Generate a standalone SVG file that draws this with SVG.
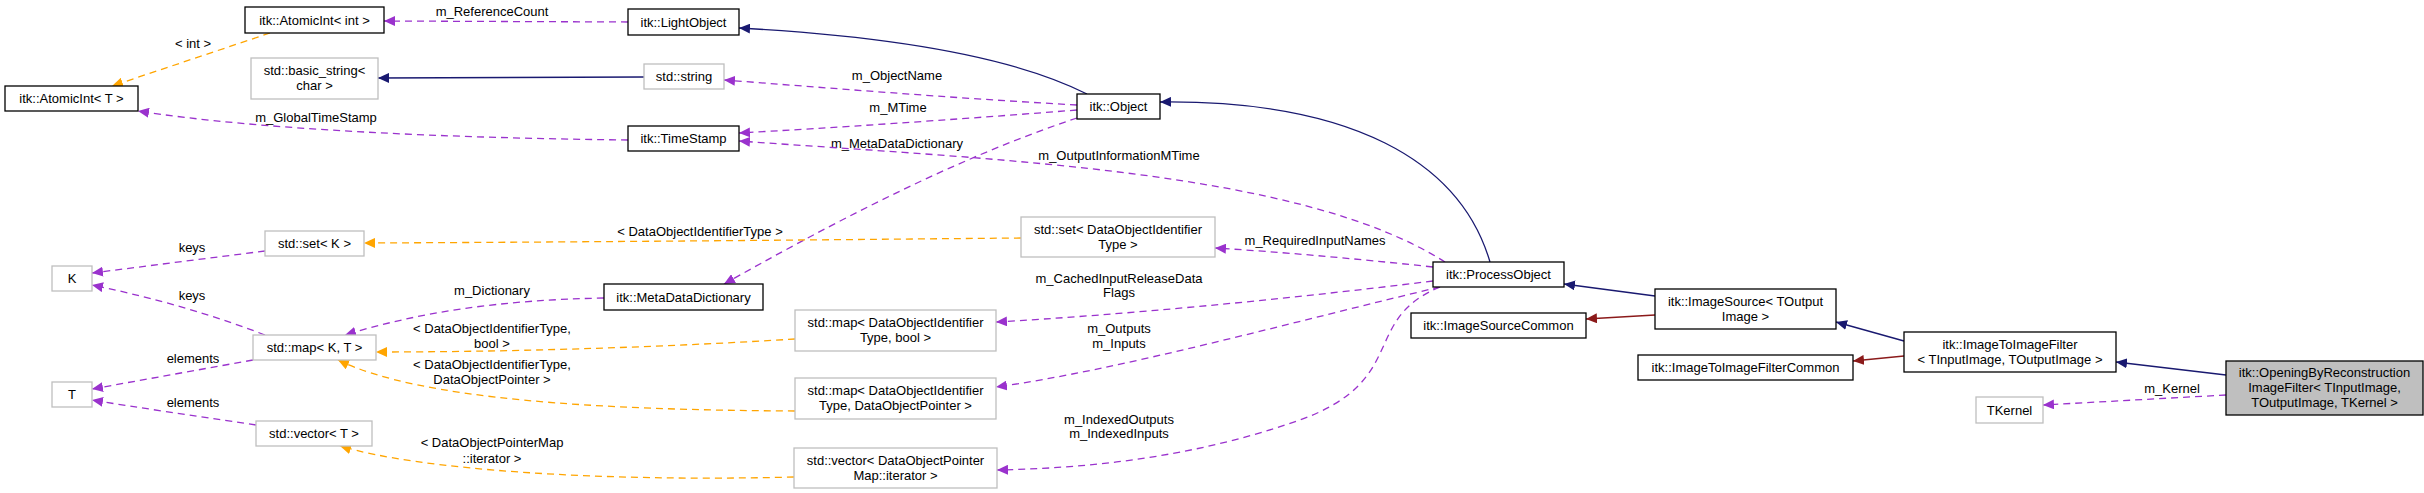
<svg xmlns="http://www.w3.org/2000/svg" width="2424" height="493" viewBox="0 0 2424 493">
<style>
text{font-family:"Liberation Sans",Arial,sans-serif;font-size:13px;fill:#000;text-anchor:middle}
.n{fill:#fff;stroke:#000;stroke-width:1.3}
.u{fill:#fff;stroke:#bfbfbf;stroke-width:1.3}
.g{fill:#bfbfbf;stroke:#000;stroke-width:1.3}
.p{fill:none;stroke:#9a32cd;stroke-width:1.3;stroke-dasharray:7,5;marker-end:url(#ap)}
.o{fill:none;stroke:#ffa500;stroke-width:1.3;stroke-dasharray:7,5;marker-end:url(#ao)}
.b{fill:none;stroke:#191970;stroke-width:1.3;marker-end:url(#ab)}
.r{fill:none;stroke:#8b1a1a;stroke-width:1.3;marker-end:url(#ar)}
</style>
<defs>
<marker id="ap" markerUnits="userSpaceOnUse" markerWidth="12" markerHeight="10" refX="11" refY="5" orient="auto"><path d="M0,0L11,5L0,10z" fill="#9a32cd"/></marker>
<marker id="ao" markerUnits="userSpaceOnUse" markerWidth="12" markerHeight="10" refX="11" refY="5" orient="auto"><path d="M0,0L11,5L0,10z" fill="#ffa500"/></marker>
<marker id="ab" markerUnits="userSpaceOnUse" markerWidth="12" markerHeight="10" refX="11" refY="5" orient="auto"><path d="M0,0L11,5L0,10z" fill="#191970"/></marker>
<marker id="ar" markerUnits="userSpaceOnUse" markerWidth="12" markerHeight="10" refX="11" refY="5" orient="auto"><path d="M0,0L11,5L0,10z" fill="#8b1a1a"/></marker>
</defs>
<g id="connectors">
<path class="p" d="M628,22 L384,21"/>
<text x="492" y="16">m_ReferenceCount</text>
<path class="o" d="M270,33 L112,86"/>
<text x="193" y="48">&lt; int &gt;</text>
<path class="b" d="M644,77 L378,78"/>
<path class="p" d="M628,140 C450,138 260,130 138,111"/>
<text x="316" y="122">m_GlobalTimeStamp</text>
<path class="b" d="M1087,94 C1000,50 850,34 739,28"/>
<path class="p" d="M1077,105 C950,98 830,88 724,80"/>
<text x="897" y="80">m_ObjectName</text>
<path class="p" d="M1077,110 C950,120 830,128 739,133"/>
<text x="898" y="112">m_MTime</text>
<path class="p" d="M1077,118 C950,160 820,230 724,284"/>
<text x="897" y="148">m_MetaDataDictionary</text>
<path class="b" d="M1490,262 C1460,160 1350,100 1160,102"/>
<path class="p" d="M1445,262 C1300,170 1000,160 739,141"/>
<text x="1119" y="160">m_OutputInformationMTime</text>
<path class="p" d="M1433,267 C1350,258 1280,252 1215,248"/>
<text x="1315" y="245">m_RequiredInputNames</text>
<path class="p" d="M1433,281 C1280,300 1120,315 996,322"/>
<text x="1119" y="283">m_CachedInputReleaseData</text>
<text x="1119" y="297">Flags</text>
<path class="p" d="M1440,287 C1300,320 1120,370 996,387"/>
<text x="1119" y="333">m_Outputs</text>
<text x="1119" y="348">m_Inputs</text>
<path class="p" d="M1440,287 C1360,320 1410,380 1300,420 C1200,455 1100,468 997,470"/>
<text x="1119" y="424">m_IndexedOutputs</text>
<text x="1119" y="438">m_IndexedInputs</text>
<path class="o" d="M1021,238 C800,240 600,242 364,243"/>
<text x="700" y="236">&lt; DataObjectIdentifierType &gt;</text>
<path class="p" d="M265,251 L92,273"/>
<text x="192" y="252">keys</text>
<path class="p" d="M604,298 C500,300 420,312 345,335"/>
<text x="492" y="295">m_Dictionary</text>
<path class="o" d="M795,339 C650,348 500,352 376,352"/>
<text x="492" y="333">&lt; DataObjectIdentifierType,</text>
<text x="492" y="348">bool &gt;</text>
<path class="o" d="M795,411 C600,410 420,400 338,360"/>
<text x="492" y="369">&lt; DataObjectIdentifierType,</text>
<text x="492" y="384">DataObjectPointer &gt;</text>
<path class="p" d="M265,335 C200,310 140,295 92,285"/>
<text x="192" y="300">keys</text>
<path class="p" d="M253,360 L92,389"/>
<text x="193" y="363">elements</text>
<path class="p" d="M256,425 C190,415 140,408 92,400"/>
<text x="193" y="407">elements</text>
<path class="o" d="M794,477 C600,482 420,470 340,446"/>
<text x="492" y="447">&lt; DataObjectPointerMap</text>
<text x="492" y="463">::iterator &gt;</text>
<path class="b" d="M1655,296 L1564,284"/>
<path class="r" d="M1655,315 L1586,319"/>
<path class="b" d="M1904,341 L1836,322"/>
<path class="r" d="M1904,356 L1853,361"/>
<path class="b" d="M2226,375 L2116,362"/>
<path class="p" d="M2226,395 L2043,405"/>
<text x="2172" y="393">m_Kernel</text>
</g>
<g id="AtomicIntInt"><rect class="n" x="245" y="7" width="139" height="26"/><text x="314.5" y="24.5">itk::AtomicInt&lt; int &gt;</text></g>
<g id="AtomicIntT"><rect class="n" x="5" y="86" width="133" height="25"/><text x="71.5" y="103">itk::AtomicInt&lt; T &gt;</text></g>
<g id="basic_string"><rect class="u" x="251" y="58" width="127" height="41"/><text x="314.5" y="75">std::basic_string&lt;</text><text x="314.5" y="90">char &gt;</text></g>
<g id="LightObject"><rect class="n" x="628" y="9" width="111" height="26"/><text x="683.5" y="26.5">itk::LightObject</text></g>
<g id="string"><rect class="u" x="644" y="64" width="80" height="25"/><text x="684" y="81">std::string</text></g>
<g id="TimeStamp"><rect class="n" x="628" y="126" width="111" height="25"/><text x="683.5" y="143">itk::TimeStamp</text></g>
<g id="Object"><rect class="n" x="1077" y="94" width="83" height="25"/><text x="1118.5" y="111">itk::Object</text></g>
<g id="setK"><rect class="u" x="265" y="231" width="99" height="25"/><text x="314.5" y="248">std::set&lt; K &gt;</text></g>
<g id="K"><rect class="u" x="52" y="266" width="40" height="25"/><text x="72" y="283">K</text></g>
<g id="T"><rect class="u" x="52" y="382" width="40" height="25"/><text x="72" y="399">T</text></g>
<g id="mapKT"><rect class="u" x="253" y="335" width="123" height="25"/><text x="314.5" y="352">std::map&lt; K, T &gt;</text></g>
<g id="vectorT"><rect class="u" x="256" y="421" width="116" height="25"/><text x="314" y="438">std::vector&lt; T &gt;</text></g>
<g id="MetaDataDictionary"><rect class="n" x="604" y="284" width="159" height="26"/><text x="683.5" y="301.5">itk::MetaDataDictionary</text></g>
<g id="setDOI"><rect class="u" x="1021" y="217" width="194" height="40"/><text x="1118" y="234">std::set&lt; DataObjectIdentifier</text><text x="1118" y="249">Type &gt;</text></g>
<g id="mapBool"><rect class="u" x="795" y="310" width="201" height="41"/><text x="895.5" y="327">std::map&lt; DataObjectIdentifier</text><text x="895.5" y="342">Type, bool &gt;</text></g>
<g id="mapDOP"><rect class="u" x="795" y="378" width="201" height="41"/><text x="895.5" y="395">std::map&lt; DataObjectIdentifier</text><text x="895.5" y="410">Type, DataObjectPointer &gt;</text></g>
<g id="vectorIter"><rect class="u" x="794" y="448" width="203" height="40"/><text x="895.5" y="465">std::vector&lt; DataObjectPointer</text><text x="895.5" y="480">Map::iterator &gt;</text></g>
<g id="ProcessObject"><rect class="n" x="1433" y="262" width="131" height="25"/><text x="1498.5" y="279">itk::ProcessObject</text></g>
<g id="ImageSourceCommon"><rect class="n" x="1411" y="313" width="175" height="25"/><text x="1498.5" y="330">itk::ImageSourceCommon</text></g>
<g id="ImageSource"><rect class="n" x="1655" y="289" width="181" height="40"/><text x="1745.5" y="306">itk::ImageSource&lt; TOutput</text><text x="1745.5" y="321">Image &gt;</text></g>
<g id="ImageToImageFilterCommon"><rect class="n" x="1638" y="355" width="215" height="25"/><text x="1745.5" y="372">itk::ImageToImageFilterCommon</text></g>
<g id="ImageToImageFilter"><rect class="n" x="1904" y="332" width="212" height="40"/><text x="2010" y="349">itk::ImageToImageFilter</text><text x="2010" y="364">&lt; TInputImage, TOutputImage &gt;</text></g>
<g id="Opening"><rect class="g" x="2226" y="361" width="197" height="54"/><text x="2324.5" y="377">itk::OpeningByReconstruction</text><text x="2324.5" y="392">ImageFilter&lt; TInputImage,</text><text x="2324.5" y="407">TOutputImage, TKernel &gt;</text></g>
<g id="TKernel"><rect class="u" x="1976" y="397" width="67" height="26"/><text x="2009.5" y="414.5">TKernel</text></g>
</svg>
